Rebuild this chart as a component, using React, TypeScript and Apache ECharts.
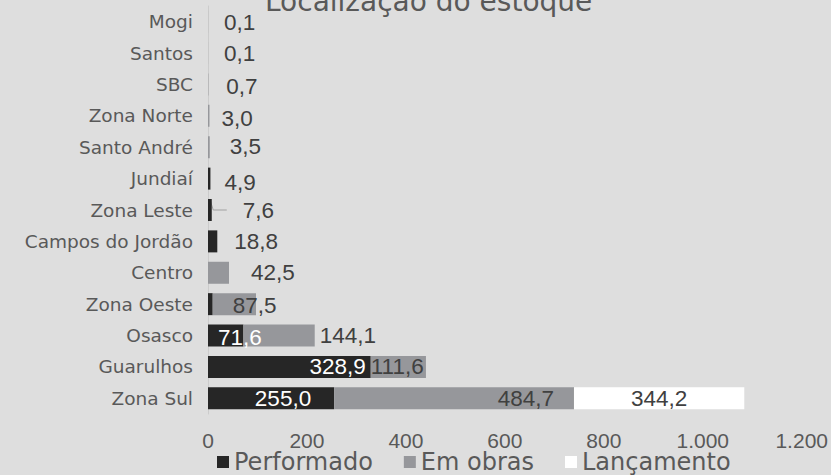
import React, { useEffect, useRef } from 'react';
import * as echarts from 'echarts';

// ---- data ----
const chartTitle = 'Localização do estoque';
const categories = [
  'Zona Sul', 'Guarulhos', 'Osasco', 'Zona Oeste', 'Centro', 'Campos do Jordão',
  'Zona Leste', 'Jundiaí', 'Santo André', 'Zona Norte', 'SBC', 'Santos', 'Mogi',
];
const seriesNames = ['Performado', 'Em obras', 'Lançamento'];
const performado = [255.0, 328.9, 71.6, 9.5, null, 18.8, 7.6, 4.9, null, null, null, null, null];
const emObras = [484.7, 111.6, 144.1, 87.5, 42.5, null, null, null, 3.5, 3.0, 0.7, 0.1, 0.1];
const lancamento = [344.2, null, null, null, null, null, null, null, null, null, null, null, null];
const xTickMin = 0;
const xTickMax = 1200;
const xTickStep = 200;

// ---- styling ----
const COLORS = ['#262626', '#96979B', '#FFFFFF'];
const TXT_FONT = 'DejaVu Sans';
const NUM_FONT = 'Liberation Sans';
const LABEL_DARK = '#404040';
const AXIS_TEXT = '#595959';
const BAR_WIDTH = 22;

// label placement per "seriesIndex:category"
const labelPlacement: Record<string, any> = {
  '1:Mogi': { position: 'right', distance: 16, offset: [0, 1] },
  '1:Santos': { position: 'right', distance: 16 },
  '1:SBC': { position: 'right', distance: 18, offset: [0, 2] },
  '1:Zona Norte': { position: 'right', distance: 12, offset: [0, 3] },
  '1:Santo André': { position: 'right', distance: 20, offset: [0, -1] },
  '0:Jundiaí': { position: 'right', distance: 14, offset: [0, 4] },
  '0:Zona Leste': { position: 'right', distance: 31, leader: true },
  '0:Campos do Jordão': { position: 'right', distance: 17 },
  '1:Centro': { position: 'right', distance: 22 },
  '1:Zona Oeste': { position: 'insideLeft', distance: 20, offset: [0, 1] },
  '0:Osasco': { position: 'insideLeft', distance: 10, color: '#FFFFFF', offset: [0, 2] },
  '1:Osasco': { position: 'right', distance: 5 },
  '0:Guarulhos': { position: 'insideRight', distance: 5, color: '#FFFFFF' },
  '1:Guarulhos': { position: 'insideLeft', distance: 0 },
  '0:Zona Sul': { position: 'insideRight', distance: 23, color: '#FFFFFF' },
  '1:Zona Sul': { position: 'insideRight', distance: 20 },
  '2:Zona Sul': { position: 'inside' },
};

const fmt = (v: number) => v.toFixed(1).replace('.', ',');
const fmtTick = (v: number) => String(v).replace(/\B(?=(\d{3})+(?!\d))/g, '.');

function buildData(values: (number | null)[], sIdx: number) {
  return values.map((v, i) => {
    if (v === null) return null;
    const p = labelPlacement[`${sIdx}:${categories[i]}`];
    if (!p) return { value: v, label: { show: false } };
    return {
      value: v,
      label: {
        show: true,
        position: p.position,
        distance: p.distance ?? 5,
        offset: p.offset ?? [0, 0],
        color: p.color ?? LABEL_DARK,
        formatter: () => fmt(v),
      },
    };
  });
}

export default function App() {
  const ref = useRef<HTMLDivElement>(null);
  useEffect(() => {
    document.body.style.margin = '0';
    if (!ref.current) return;
    const chart = echarts.init(ref.current, null, { renderer: 'svg' });
    const allValues = [performado, emObras, lancamento];
    chart.setOption({
      animation: false,
      backgroundColor: '#DEDEDE',
      title: {
        text: chartTitle,
        left: 260,
        top: -18,
        textStyle: { fontSize: 28, fontWeight: 'normal', color: AXIS_TEXT, fontFamily: TXT_FONT },
      },
      grid: { left: 208, right: 29, top: 6, bottom: 61, containLabel: false },
      legend: {
        data: seriesNames,
        top: 450,
        left: 217,
        padding: 0,
        icon: 'rect',
        itemWidth: 12,
        itemHeight: 12,
        itemGap: 31,
        textStyle: { fontSize: 24, lineHeight: 20, fontFamily: TXT_FONT, color: AXIS_TEXT },
      },
      xAxis: {
        type: 'value',
        min: xTickMin,
        max: xTickMax,
        interval: xTickStep,
        splitLine: { show: false },
        axisLine: { show: false },
        axisTick: { show: false },
        axisLabel: {
          formatter: (v: number) => fmtTick(v),
          color: AXIS_TEXT,
          fontSize: 21,
          lineHeight: 16,
          fontFamily: NUM_FONT,
          margin: 18,
        },
      },
      yAxis: {
        type: 'category',
        data: categories,
        axisLine: { show: true, lineStyle: { color: '#CCCCCC', width: 1 } },
        axisTick: { show: false },
        axisLabel: { color: AXIS_TEXT, fontSize: 18.5, fontFamily: TXT_FONT, margin: 15 },
      },
      series: seriesNames.map((name, sIdx) => ({
        name,
        type: 'bar',
        stack: 'total',
        barWidth: BAR_WIDTH,
        itemStyle: { color: COLORS[sIdx] },
        label: { fontSize: 22.5, fontFamily: NUM_FONT },
        emphasis: { disabled: true },
        data: buildData(allValues[sIdx], sIdx),
      })),
    });

    // leader line for labels flagged with "leader", anchored on the bar end via the axes
    const graphics: any[] = [];
    Object.keys(labelPlacement).forEach((key) => {
      const p = labelPlacement[key];
      if (!p.leader) return;
      const [sStr, cat] = key.split(':');
      const sIdx = Number(sStr);
      const ci = categories.indexOf(cat);
      let end = 0;
      for (let s = 0; s <= sIdx; s++) end += (allValues[s][ci] as number) || 0;
      const pt = chart.convertToPixel({ gridIndex: 0 }, [end, cat]) as number[];
      graphics.push({
        type: 'polyline',
        silent: true,
        shape: {
          points: [
            [pt[0] - 2, pt[1] - BAR_WIDTH / 2],
            [pt[0] + 1.5, pt[1]],
            [pt[0] + 15, pt[1]],
          ],
        },
        style: { stroke: '#A0A0A0', lineWidth: 1, fill: null },
      });
    });
    chart.setOption({ graphic: graphics });
    return () => chart.dispose();
  }, []);
  return <div ref={ref} style={{ width: 831, height: 475 }} />;
}
